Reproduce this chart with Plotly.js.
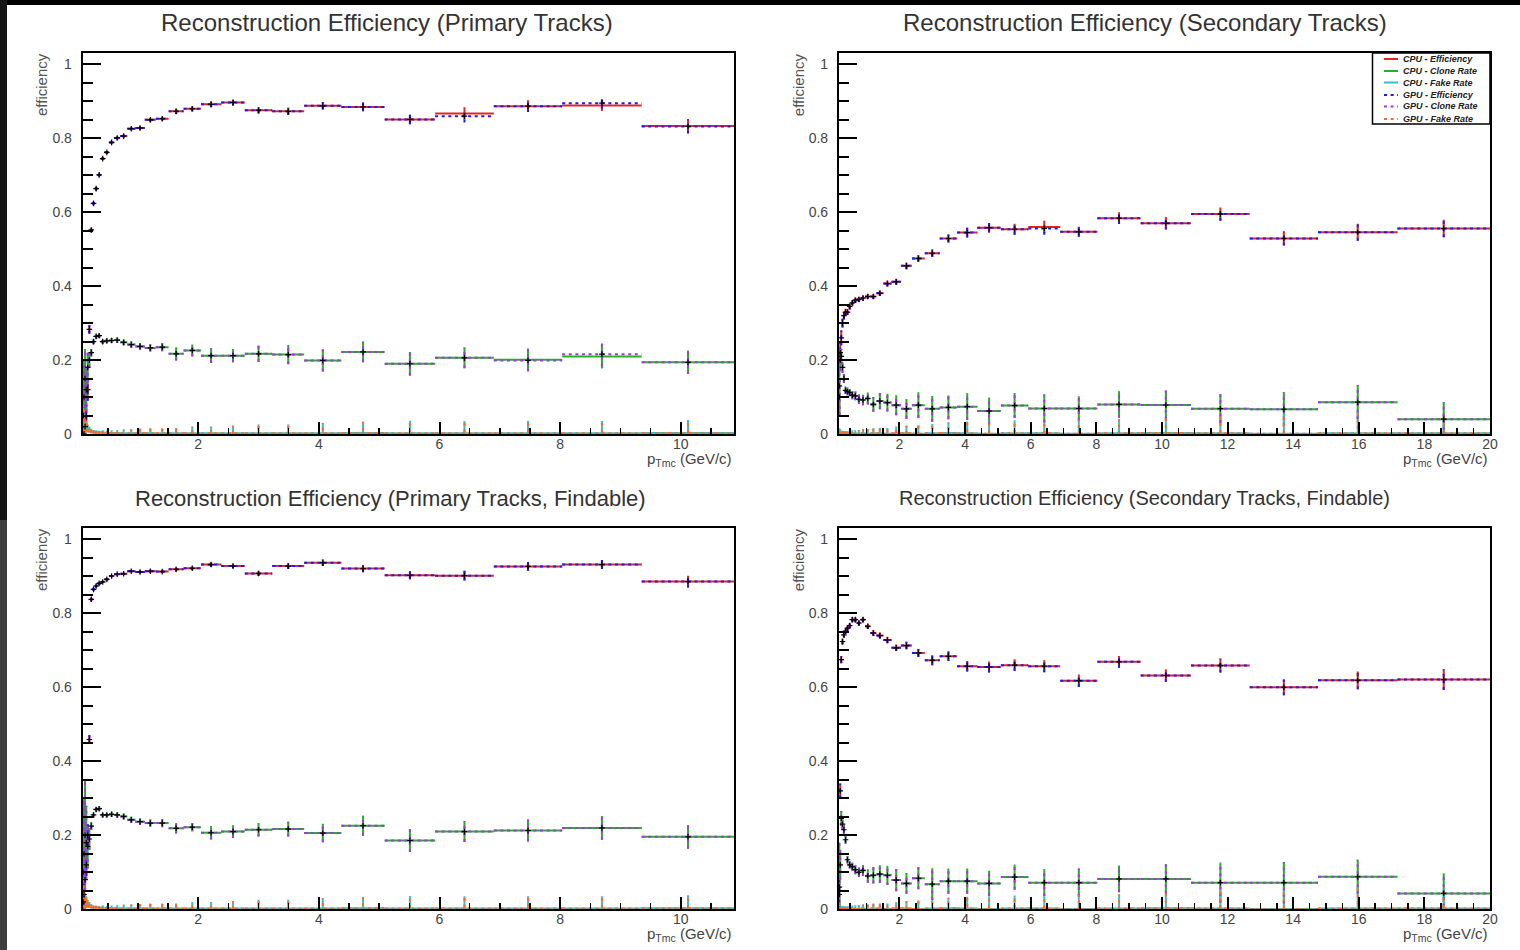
<!DOCTYPE html>
<html>
<head>
<meta charset="utf-8">
<script src="https://cdn.plot.ly/plotly-3.0.1.min.js"></script>
<style>
html,body{margin:0;padding:0;background:#ffffff;}
#chart{width:1520px;height:950px;}
</style>
</head>
<body>
<div id="chart"></div>
<script>
// ---------------- DATA ----------------
// log-spaced pT bin edges (GeV/c), bins 14..49 of a 50-bin axis 0.01..20
const ptBinEdges = [0.0840, 0.0978, 0.1139, 0.1325, 0.1543, 0.1796, 0.2091, 0.2435, 0.2834, 0.3300,
  0.3841, 0.4472, 0.5206, 0.6061, 0.7056, 0.8215, 0.9564, 1.1134, 1.2962, 1.5090,
  1.7567, 2.0451, 2.3809, 2.7718, 3.2270, 3.7567, 4.3735, 5.0915, 5.9274, 6.9007,
  8.0337, 9.3526, 10.888, 12.676, 14.757, 17.179, 20.000];
const primFirstEdge = 0;   // primary plots: bins start at edge index 0
const secFirstEdge = 4;    // secondary plots: bins start at edge index 4

const panelTitles = [
  "Reconstruction Efficiency (Primary Tracks)",
  "Reconstruction Efficiency (Secondary Tracks)",
  "Reconstruction Efficiency (Primary Tracks, Findable)",
  "Reconstruction Efficiency (Secondary Tracks, Findable)"
];
const seriesNames = ["CPU - Efficiency", "CPU - Clone Rate", "CPU - Fake Rate",
                     "GPU - Efficiency", "GPU - Clone Rate", "GPU - Fake Rate"];

// Primary tracks
const primEffCPU = [0.05, 0.00, 0.02, 0.05, 0.12, 0.283, 0.552, 0.624, 0.664, 0.701, 0.745, 0.762, 0.789, 0.801, 0.806, 0.826, 0.828, 0.850, 0.853, 0.873, 0.880, 0.892, 0.897, 0.876, 0.873, 0.888, 0.885, 0.851, 0.867, 0.887, 0.889, 0.833];
const primEffGPU = [0.05, 0.00, 0.02, 0.05, 0.12, 0.283, 0.552, 0.624, 0.664, 0.701, 0.745, 0.762, 0.789, 0.801, 0.806, 0.826, 0.828, 0.850, 0.853, 0.873, 0.880, 0.892, 0.897, 0.876, 0.873, 0.888, 0.885, 0.851, 0.860, 0.887, 0.895, 0.832];
const primEffErr = [0.05, 0.02, 0.02, 0.03, 0.03, 0.012, 0.006, 0.005, 0.005, 0.004, 0.004, 0.004, 0.004, 0.004, 0.004, 0.004, 0.005, 0.005, 0.005, 0.007, 0.007, 0.008, 0.008, 0.009, 0.010, 0.010, 0.012, 0.013, 0.017, 0.016, 0.015, 0.019];
const primCloneCPU = [0.05, 0.10, 0.15, 0.12, 0.18, 0.20, 0.22, 0.250, 0.264, 0.266, 0.250, 0.252, 0.253, 0.254, 0.248, 0.242, 0.237, 0.233, 0.235, 0.217, 0.226, 0.212, 0.212, 0.217, 0.215, 0.199, 0.222, 0.190, 0.206, 0.201, 0.210, 0.194];
const primCloneGPU = [0.05, 0.10, 0.15, 0.12, 0.18, 0.20, 0.22, 0.250, 0.264, 0.266, 0.250, 0.252, 0.253, 0.254, 0.248, 0.242, 0.237, 0.233, 0.235, 0.217, 0.226, 0.212, 0.212, 0.217, 0.215, 0.199, 0.222, 0.190, 0.206, 0.199, 0.216, 0.194];
const primCloneErr = [0.05, 0.10, 0.08, 0.06, 0.04, 0.02, 0.010, 0.007, 0.006, 0.006, 0.006, 0.006, 0.007, 0.007, 0.008, 0.009, 0.009, 0.010, 0.011, 0.018, 0.016, 0.020, 0.018, 0.022, 0.026, 0.030, 0.028, 0.032, 0.028, 0.030, 0.033, 0.032];
const primFakeCPU = [0.04, 0.03, 0.025, 0.02, 0.015, 0.012, 0.008, 0.006, 0.005, 0.004, 0.004, 0.003, 0.003, 0.003, 0.002, 0.002, 0.002, 0.002, 0.002, 0.002, 0.002, 0.002, 0.002, 0.002, 0.002, 0.002, 0.003, 0.002, 0.002, 0.002, 0.002, 0.003];
const primFakeGPU = [0.05, 0.035, 0.02, 0.02, 0.015, 0.012, 0.008, 0.006, 0.005, 0.004, 0.004, 0.003, 0.003, 0.003, 0.002, 0.002, 0.002, 0.002, 0.002, 0.002, 0.002, 0.002, 0.002, 0.002, 0.002, 0.002, 0.003, 0.002, 0.002, 0.002, 0.002, 0.003];
const primFakeErr = [0.03, 0.03, 0.02, 0.015, 0.01, 0.008, 0.006, 0.005, 0.005, 0.005, 0.006, 0.006, 0.007, 0.008, 0.010, 0.011, 0.012, 0.013, 0.013, 0.014, 0.018, 0.018, 0.020, 0.024, 0.024, 0.028, 0.030, 0.034, 0.033, 0.033, 0.033, 0.035];

// Secondary tracks
const secEffCPU = [0.10, 0.22, 0.26, 0.30, 0.32, 0.33, 0.33, 0.345, 0.355, 0.362, 0.364, 0.368, 0.372, 0.372, 0.381, 0.407, 0.412, 0.455, 0.475, 0.489, 0.529, 0.545, 0.558, 0.554, 0.560, 0.547, 0.584, 0.570, 0.595, 0.529, 0.546, 0.556];
const secEffGPU = [0.10, 0.22, 0.26, 0.30, 0.32, 0.33, 0.33, 0.345, 0.355, 0.362, 0.364, 0.368, 0.372, 0.372, 0.381, 0.407, 0.412, 0.455, 0.475, 0.489, 0.529, 0.545, 0.558, 0.554, 0.556, 0.547, 0.584, 0.570, 0.595, 0.529, 0.546, 0.556];
const secEffErr = [0.05, 0.03, 0.02, 0.012, 0.010, 0.009, 0.008, 0.008, 0.007, 0.007, 0.007, 0.007, 0.007, 0.007, 0.007, 0.008, 0.008, 0.009, 0.009, 0.010, 0.011, 0.0135, 0.013, 0.015, 0.017, 0.0135, 0.016, 0.017, 0.018, 0.019, 0.023, 0.024];
const secCloneCPU = [0.13, 0.20, 0.21, 0.18, 0.15, 0.118, 0.115, 0.112, 0.105, 0.103, 0.094, 0.092, 0.096, 0.080, 0.089, 0.085, 0.078, 0.068, 0.078, 0.068, 0.072, 0.074, 0.062, 0.077, 0.069, 0.069, 0.080, 0.0785, 0.0685, 0.067, 0.086, 0.040];
const secCloneGPU = [0.13, 0.20, 0.21, 0.18, 0.15, 0.118, 0.115, 0.112, 0.105, 0.103, 0.094, 0.092, 0.096, 0.080, 0.089, 0.085, 0.078, 0.068, 0.078, 0.068, 0.072, 0.074, 0.062, 0.077, 0.069, 0.069, 0.080, 0.0785, 0.0685, 0.067, 0.086, 0.040];
const secCloneErr = [0.08, 0.03, 0.02, 0.015, 0.012, 0.010, 0.010, 0.010, 0.011, 0.012, 0.013, 0.014, 0.016, 0.020, 0.022, 0.024, 0.027, 0.027, 0.035, 0.035, 0.032, 0.036, 0.036, 0.034, 0.038, 0.033, 0.036, 0.039, 0.039, 0.046, 0.046, 0.046];
const secFakeCPU = [0.005, 0.004, 0.003, 0.003, 0.003, 0.002, 0.002, 0.002, 0.002, 0.001, 0.001, 0.002, 0.001, 0.002, 0.002, 0.001, 0.002, 0.002, 0.001, 0.002, 0.003, 0.002, 0.001, 0.002, 0.002, 0.001, 0.002, 0.003, 0.002, 0.001, 0.002, 0.002];
const secFakeGPU = [0.005, 0.004, 0.003, 0.003, 0.003, 0.002, 0.002, 0.002, 0.002, 0.001, 0.001, 0.002, 0.001, 0.002, 0.002, 0.001, 0.002, 0.002, 0.001, 0.002, 0.003, 0.002, 0.001, 0.002, 0.002, 0.001, 0.002, 0.003, 0.002, 0.001, 0.002, 0.002];
const secFakeErr = [0.010, 0.008, 0.006, 0.005, 0.005, 0.006, 0.006, 0.007, 0.008, 0.009, 0.010, 0.011, 0.012, 0.013, 0.014, 0.015, 0.018, 0.020, 0.022, 0.025, 0.028, 0.032, 0.034, 0.035, 0.036, 0.038, 0.038, 0.040, 0.052, 0.052, 0.060, 0.052];

// Primary tracks, findable
const primFindEffCPU = [0.02, 0.04, 0.08, 0.12, 0.20, 0.459, 0.838, 0.865, 0.874, 0.881, 0.885, 0.892, 0.901, 0.906, 0.907, 0.914, 0.912, 0.914, 0.913, 0.919, 0.922, 0.932, 0.928, 0.908, 0.928, 0.937, 0.921, 0.903, 0.902, 0.927, 0.932, 0.886];
const primFindEffGPU = [0.02, 0.04, 0.08, 0.12, 0.20, 0.459, 0.838, 0.865, 0.874, 0.881, 0.885, 0.892, 0.901, 0.906, 0.907, 0.914, 0.912, 0.914, 0.913, 0.919, 0.922, 0.932, 0.928, 0.908, 0.928, 0.937, 0.921, 0.903, 0.902, 0.927, 0.932, 0.886];
const primFindEffErr = [0.05, 0.03, 0.03, 0.03, 0.03, 0.012, 0.005, 0.004, 0.004, 0.004, 0.003, 0.003, 0.003, 0.003, 0.003, 0.003, 0.004, 0.004, 0.004, 0.005, 0.005, 0.006, 0.006, 0.007, 0.008, 0.009, 0.010, 0.011, 0.013, 0.012, 0.012, 0.016];
const primFindCloneCPU = [0.10, 0.15, 0.20, 0.18, 0.17, 0.19, 0.225, 0.255, 0.270, 0.272, 0.255, 0.255, 0.257, 0.255, 0.251, 0.242, 0.237, 0.233, 0.233, 0.219, 0.222, 0.207, 0.210, 0.215, 0.217, 0.206, 0.226, 0.186, 0.210, 0.213, 0.220, 0.196];
const primFindCloneGPU = [0.10, 0.15, 0.20, 0.18, 0.17, 0.19, 0.225, 0.255, 0.270, 0.272, 0.255, 0.255, 0.257, 0.255, 0.251, 0.242, 0.237, 0.233, 0.233, 0.219, 0.222, 0.207, 0.210, 0.215, 0.217, 0.206, 0.226, 0.186, 0.210, 0.213, 0.220, 0.196];
const primFindCloneErr = [0.10, 0.15, 0.15, 0.10, 0.06, 0.03, 0.010, 0.007, 0.006, 0.006, 0.006, 0.006, 0.007, 0.007, 0.008, 0.009, 0.009, 0.010, 0.011, 0.014, 0.011, 0.018, 0.017, 0.018, 0.020, 0.025, 0.027, 0.031, 0.028, 0.030, 0.032, 0.032];
const primFindFakeCPU = [0.04, 0.03, 0.025, 0.02, 0.015, 0.012, 0.008, 0.006, 0.005, 0.004, 0.004, 0.003, 0.003, 0.003, 0.002, 0.002, 0.002, 0.002, 0.002, 0.002, 0.002, 0.002, 0.002, 0.002, 0.002, 0.002, 0.003, 0.002, 0.002, 0.002, 0.002, 0.003];
const primFindFakeGPU = [0.05, 0.035, 0.02, 0.02, 0.015, 0.012, 0.008, 0.006, 0.005, 0.004, 0.004, 0.003, 0.003, 0.003, 0.002, 0.002, 0.002, 0.002, 0.002, 0.002, 0.002, 0.002, 0.002, 0.002, 0.002, 0.002, 0.003, 0.002, 0.002, 0.002, 0.002, 0.003];
const primFindFakeErr = [0.03, 0.03, 0.02, 0.015, 0.01, 0.008, 0.006, 0.005, 0.005, 0.005, 0.006, 0.006, 0.007, 0.008, 0.010, 0.011, 0.012, 0.013, 0.013, 0.014, 0.018, 0.018, 0.020, 0.024, 0.024, 0.028, 0.030, 0.034, 0.033, 0.033, 0.033, 0.035];

// Secondary tracks, findable
const secFindEffCPU = [0.04, 0.32, 0.675, 0.724, 0.742, 0.752, 0.760, 0.767, 0.783, 0.783, 0.774, 0.783, 0.765, 0.747, 0.740, 0.728, 0.707, 0.713, 0.693, 0.673, 0.684, 0.657, 0.655, 0.660, 0.657, 0.618, 0.669, 0.632, 0.659, 0.600, 0.619, 0.621];
const secFindEffGPU = [0.04, 0.32, 0.675, 0.724, 0.742, 0.752, 0.760, 0.767, 0.783, 0.783, 0.774, 0.783, 0.765, 0.747, 0.740, 0.728, 0.707, 0.713, 0.693, 0.673, 0.684, 0.657, 0.655, 0.660, 0.657, 0.618, 0.669, 0.632, 0.659, 0.600, 0.619, 0.621];
const secFindEffErr = [0.04, 0.02, 0.010, 0.008, 0.007, 0.007, 0.007, 0.007, 0.007, 0.007, 0.007, 0.007, 0.007, 0.008, 0.008, 0.009, 0.009, 0.010, 0.011, 0.013, 0.013, 0.014, 0.015, 0.016, 0.016, 0.017, 0.016, 0.017, 0.019, 0.021, 0.024, 0.028];
const secFindCloneCPU = [0.06, 0.12, 0.246, 0.23, 0.215, 0.188, 0.134, 0.12, 0.115, 0.107, 0.10, 0.105, 0.09, 0.092, 0.095, 0.092, 0.079, 0.070, 0.084, 0.068, 0.076, 0.076, 0.070, 0.087, 0.072, 0.072, 0.082, 0.082, 0.072, 0.072, 0.088, 0.043];
const secFindCloneGPU = [0.06, 0.12, 0.246, 0.23, 0.215, 0.188, 0.134, 0.12, 0.115, 0.107, 0.10, 0.105, 0.09, 0.092, 0.095, 0.092, 0.079, 0.070, 0.084, 0.068, 0.076, 0.076, 0.070, 0.087, 0.072, 0.072, 0.082, 0.082, 0.072, 0.072, 0.088, 0.043];
const secFindCloneErr = [0.12, 0.04, 0.02, 0.015, 0.012, 0.011, 0.010, 0.010, 0.011, 0.012, 0.013, 0.015, 0.018, 0.022, 0.024, 0.026, 0.030, 0.028, 0.030, 0.043, 0.034, 0.034, 0.034, 0.034, 0.036, 0.038, 0.036, 0.040, 0.054, 0.056, 0.046, 0.054];
const secFindFakeCPU = [0.005, 0.004, 0.003, 0.003, 0.003, 0.002, 0.002, 0.002, 0.002, 0.001, 0.001, 0.002, 0.001, 0.002, 0.002, 0.001, 0.002, 0.002, 0.001, 0.002, 0.003, 0.002, 0.001, 0.002, 0.002, 0.001, 0.002, 0.003, 0.002, 0.001, 0.002, 0.002];
const secFindFakeGPU = [0.005, 0.004, 0.003, 0.003, 0.003, 0.002, 0.002, 0.002, 0.002, 0.001, 0.001, 0.002, 0.001, 0.002, 0.002, 0.001, 0.002, 0.002, 0.001, 0.002, 0.003, 0.002, 0.001, 0.002, 0.002, 0.001, 0.002, 0.003, 0.002, 0.001, 0.002, 0.002];
const secFindFakeErr = [0.010, 0.008, 0.006, 0.005, 0.005, 0.006, 0.006, 0.007, 0.008, 0.009, 0.010, 0.011, 0.012, 0.013, 0.014, 0.015, 0.018, 0.020, 0.022, 0.025, 0.028, 0.032, 0.034, 0.035, 0.036, 0.038, 0.038, 0.040, 0.052, 0.052, 0.060, 0.052];

// ---------------- STYLE ----------------
const W = 1520, H = 950;
const PX = v => v / W, PY = v => 1 - v / H;
const colCPU = ['#e3261f', '#1fb51f', '#2ec3cd'];
const colGPU = ['#1a1aff', '#a635e6', '#ff6a1f'];
const DOT = '3px,3.6px';
const FONT = 'Liberation Sans, Arial, sans-serif';

const panels = [
  { xa: 'x',  ya: 'y',  first: primFirstEdge, dom: [[82.7, 734.3], [53.3, 434]],
    cpu: [primEffCPU, primCloneCPU, primFakeCPU], gpu: [primEffGPU, primCloneGPU, primFakeGPU], err: [primEffErr, primCloneErr, primFakeErr] },
  { xa: 'x2', ya: 'y2', first: secFirstEdge, dom: [[838.9, 1490], [53.3, 434]],
    cpu: [secEffCPU, secCloneCPU, secFakeCPU], gpu: [secEffGPU, secCloneGPU, secFakeGPU], err: [secEffErr, secCloneErr, secFakeErr] },
  { xa: 'x3', ya: 'y3', first: primFirstEdge, dom: [[82.7, 734.3], [528.3, 909.3]],
    cpu: [primFindEffCPU, primFindCloneCPU, primFindFakeCPU], gpu: [primFindEffGPU, primFindCloneGPU, primFindFakeGPU], err: [primFindEffErr, primFindCloneErr, primFindFakeErr] },
  { xa: 'x4', ya: 'y4', first: secFirstEdge, dom: [[838.9, 1490], [528.3, 909.3]],
    cpu: [secFindEffCPU, secFindCloneCPU, secFindFakeCPU], gpu: [secFindEffGPU, secFindCloneGPU, secFindFakeGPU], err: [secFindEffErr, secFindCloneErr, secFindFakeErr] }
];

function histSegments(first, vals, errs) {
  const x = [], y = [];
  for (let i = 0; i < vals.length; i++) {
    const lo = ptBinEdges[first + i], hi = ptBinEdges[first + i + 1], c = (lo + hi) / 2;
    x.push(lo, hi, null, c, c, null);
    y.push(vals[i], vals[i], null, vals[i] - errs[i], vals[i] + errs[i], null);
  }
  return { x, y };
}
function centers(first, n) {
  const c = [];
  for (let i = 0; i < n; i++) c.push((ptBinEdges[first + i] + ptBinEdges[first + i + 1]) / 2);
  return c;
}

const traces = [];
panels.forEach(p => {
  for (let s = 0; s < 3; s++) {
    const seg = histSegments(p.first, p.cpu[s], p.err[s]);
    traces.push({ type: 'scatter', mode: 'lines', x: seg.x, y: seg.y, xaxis: p.xa, yaxis: p.ya,
      line: { color: colCPU[s], width: 2 }, hoverinfo: 'skip', showlegend: false, name: seriesNames[s] });
  }
  for (let s = 0; s < 3; s++) {
    const seg = histSegments(p.first, p.gpu[s], p.err[s]);
    traces.push({ type: 'scatter', mode: 'lines', x: seg.x, y: seg.y, xaxis: p.xa, yaxis: p.ya,
      line: { color: colGPU[s], width: 2, dash: DOT }, hoverinfo: 'skip', showlegend: false, name: seriesNames[3 + s] });
  }
  const c = centers(p.first, p.gpu[0].length);
  for (let s = 0; s < 2; s++) {
    traces.push({ type: 'scatter', mode: 'markers', x: c, y: p.gpu[s], xaxis: p.xa, yaxis: p.ya,
      marker: { symbol: 'cross-thin', size: 4, line: { width: 1.2, color: '#000' } },
      hoverinfo: 'skip', showlegend: false });
  }
});

function xAxis(p) {
  return {
    domain: [PX(p.dom[0][0]), PX(p.dom[0][1])], anchor: p.ya,
    range: [ptBinEdges[p.first], ptBinEdges[p.first + 32]],
    showline: true, mirror: true, linecolor: '#000', linewidth: 2,
    ticks: 'inside', ticklen: 12, tickwidth: 2, tickcolor: '#000', tick0: 0, dtick: 2,
    minor: { ticks: 'inside', dtick: 0.5, tick0: 0, ticklen: 6, tickwidth: 1.5, tickcolor: '#000', showgrid: false },
    showgrid: false, zeroline: false, fixedrange: true, ticklabelstandoff: -4,
    tickfont: { family: FONT, size: 14, color: '#444' }
  };
}
function yAxis(p) {
  return {
    domain: [PY(p.dom[1][1]), PY(p.dom[1][0])], anchor: p.xa,
    range: [0, 1.03],
    showline: true, mirror: true, linecolor: '#000', linewidth: 2,
    ticks: 'inside', ticklen: 18, tickwidth: 2, tickcolor: '#000', tick0: 0, dtick: 0.2,
    minor: { ticks: 'inside', dtick: 0.05, tick0: 0, ticklen: 10, tickwidth: 2, tickcolor: '#000', showgrid: false },
    showgrid: false, zeroline: false, fixedrange: true, ticklabelstandoff: 6,
    tickfont: { family: FONT, size: 14, color: '#444' }
  };
}

const titlePos = [[387.5, 23, 24], [1145, 23, 24], [390, 498, 22], [1144.5, 498, 20]];
const annotations = [];
titlePos.forEach((t, i) => annotations.push({
  xref: 'paper', yref: 'paper', x: PX(t[0]), y: PY(t[1]), xanchor: 'center', yanchor: 'middle',
  text: panelTitles[i], showarrow: false, font: { family: FONT, size: t[2], color: '#333' }
}));
panels.forEach(p => {
  const left = p.dom[0][0], right = p.dom[0][1], top = p.dom[1][0], bot = p.dom[1][1];
  annotations.push({ xref: 'paper', yref: 'paper', x: PX(left - 41), y: PY(top + 31), xanchor: 'center', yanchor: 'middle',
    text: 'efficiency', textangle: -90, showarrow: false, font: { family: FONT, size: 15, color: '#555' } });
  annotations.push({ xref: 'paper', yref: 'paper', x: PX(right), y: PY(bot + 25), xanchor: 'right', yanchor: 'middle',
    text: 'p<sub>Tmc</sub> (GeV/c)', showarrow: false, font: { family: FONT, size: 15, color: '#444' } });
});

// legend (drawn in the top-right pad)
const shapes = [];
const legX0 = 1372.5, legX1 = 1490, legY0 = 53, legY1 = 124;
shapes.push({ type: 'rect', xref: 'paper', yref: 'paper', x0: PX(legX0), x1: PX(legX1), y0: PY(legY1), y1: PY(legY0),
  fillcolor: '#fff', line: { color: '#000', width: 1.5 }, layer: 'above' });
const rowY = [59, 71, 82.5, 95, 106.5, 119];
seriesNames.forEach((nm, i) => {
  const col = i < 3 ? colCPU[i] : colGPU[i - 3];
  shapes.push({ type: 'line', xref: 'paper', yref: 'paper', x0: PX(1384), x1: PX(1398), y0: PY(rowY[i]), y1: PY(rowY[i]),
    line: { color: col, width: 2, dash: i < 3 ? 'solid' : DOT }, layer: 'above' });
  annotations.push({ xref: 'paper', yref: 'paper', x: PX(1401), y: PY(rowY[i]), xanchor: 'left', yanchor: 'middle',
    text: '<b><i>' + nm + '</i></b>', showarrow: false, font: { family: FONT, size: 9, color: '#222' } });
});
// screenshot borders
shapes.push({ type: 'rect', xref: 'paper', yref: 'paper', x0: 0, x1: 1, y0: PY(5), y1: 1, fillcolor: '#000', line: { width: 0 }, layer: 'above' });
shapes.push({ type: 'rect', xref: 'paper', yref: 'paper', x0: 0, x1: PX(7), y0: PY(520), y1: 1, fillcolor: '#151515', line: { width: 0 }, layer: 'above' });
shapes.push({ type: 'rect', xref: 'paper', yref: 'paper', x0: 0, x1: PX(7), y0: 0, y1: PY(520), fillcolor: '#3d3d3d', line: { width: 0 }, layer: 'above' });

const layout = {
  width: W, height: H, autosize: false,
  margin: { l: 0, r: 0, t: 0, b: 0, pad: 0 },
  paper_bgcolor: '#fff', plot_bgcolor: '#fff',
  showlegend: false,
  xaxis: xAxis(panels[0]), yaxis: yAxis(panels[0]),
  xaxis2: xAxis(panels[1]), yaxis2: yAxis(panels[1]),
  xaxis3: xAxis(panels[2]), yaxis3: yAxis(panels[2]),
  xaxis4: xAxis(panels[3]), yaxis4: yAxis(panels[3]),
  annotations: annotations, shapes: shapes
};

Plotly.newPlot('chart', traces, layout, { staticPlot: true, displayModeBar: false });
</script>
</body>
</html>
